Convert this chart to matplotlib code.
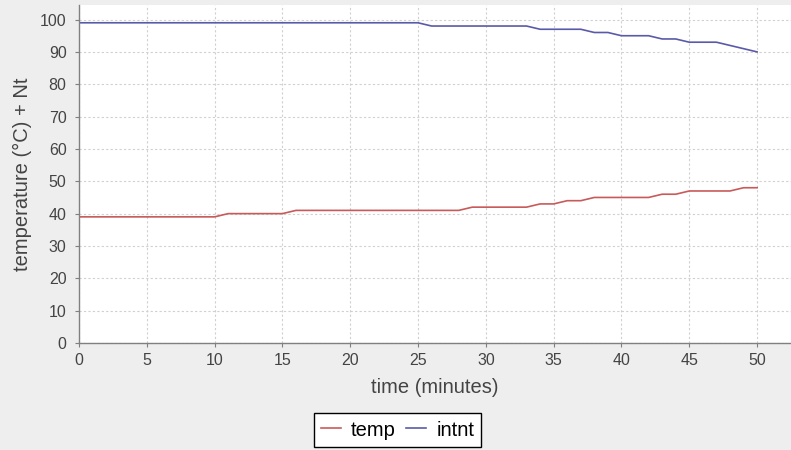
import matplotlib
matplotlib.use("Agg")
import matplotlib.pyplot as plt

minutes = list(range(0, 51))
temp = [39]*11 + [40]*5 + [41]*13 + [42]*5 + [43]*2 + [44]*2 + [45]*5 + [46]*2 + [47]*4 + [48]*2
intnt = [99]*26 + [98]*8 + [97]*4 + [96]*2 + [95]*3 + [94]*2 + [93]*3 + [92, 91, 90]
series_names = ["temp", "intnt"]
x_ticks = list(range(0, 51, 5))
y_ticks = list(range(0, 101, 10))

plt.rcParams['font.family'] = ['Liberation Sans', 'DejaVu Sans']

W, H = 791, 450
fig = plt.figure(figsize=(W/100, H/100), dpi=100, facecolor='#eeeeee')
ax = fig.add_axes([79/W, 1 - 343/H, (791-79)/W, (343-5)/H])
ax.set_facecolor('white')

ax.plot(minutes, temp, color='#c85a5a', lw=1.2, label=series_names[0])
ax.plot(minutes, intnt, color='#5a5aaa', lw=1.2, label=series_names[1])

ax.set_xlim(0, 52.5)
ax.set_ylim(0, 104.5)
ax.set_xticks(x_ticks)
ax.set_yticks(y_ticks)
ax.grid(True, color='#d0d0d0', linestyle=(0, (2, 2)), lw=0.8)
ax.set_axisbelow(True)

for s in ['top', 'right']:
    ax.spines[s].set_visible(False)
for s in ['left', 'bottom']:
    ax.spines[s].set_color('#808080')
    ax.spines[s].set_linewidth(1.0)
ax.tick_params(axis='both', colors='#808080', labelcolor='#444444', labelsize=11.5,
               length=3, width=0.8, direction='out')
ax.tick_params(axis='x', pad=4.5)
ax.tick_params(axis='y', pad=6)

ax.set_xlabel("time (minutes)", fontsize=14.5, color='#444444', labelpad=7)
ax.set_ylabel("temperature (°C) + Nt", fontsize=14.5, color='#444444', labelpad=6)

leg = fig.legend(loc='center', bbox_to_anchor=(397.5/W, 1 - 430/H), ncol=2,
                 frameon=True, fancybox=False, fontsize=14.5, handlelength=1.0,
                 handletextpad=0.5, columnspacing=0.5, borderpad=0.35,
                 borderaxespad=0, edgecolor='black', facecolor='white')
leg.get_frame().set_linewidth(1.0)
leg.get_frame().set_alpha(1)

fig.savefig("out.png", dpi=100, facecolor=fig.get_facecolor())
